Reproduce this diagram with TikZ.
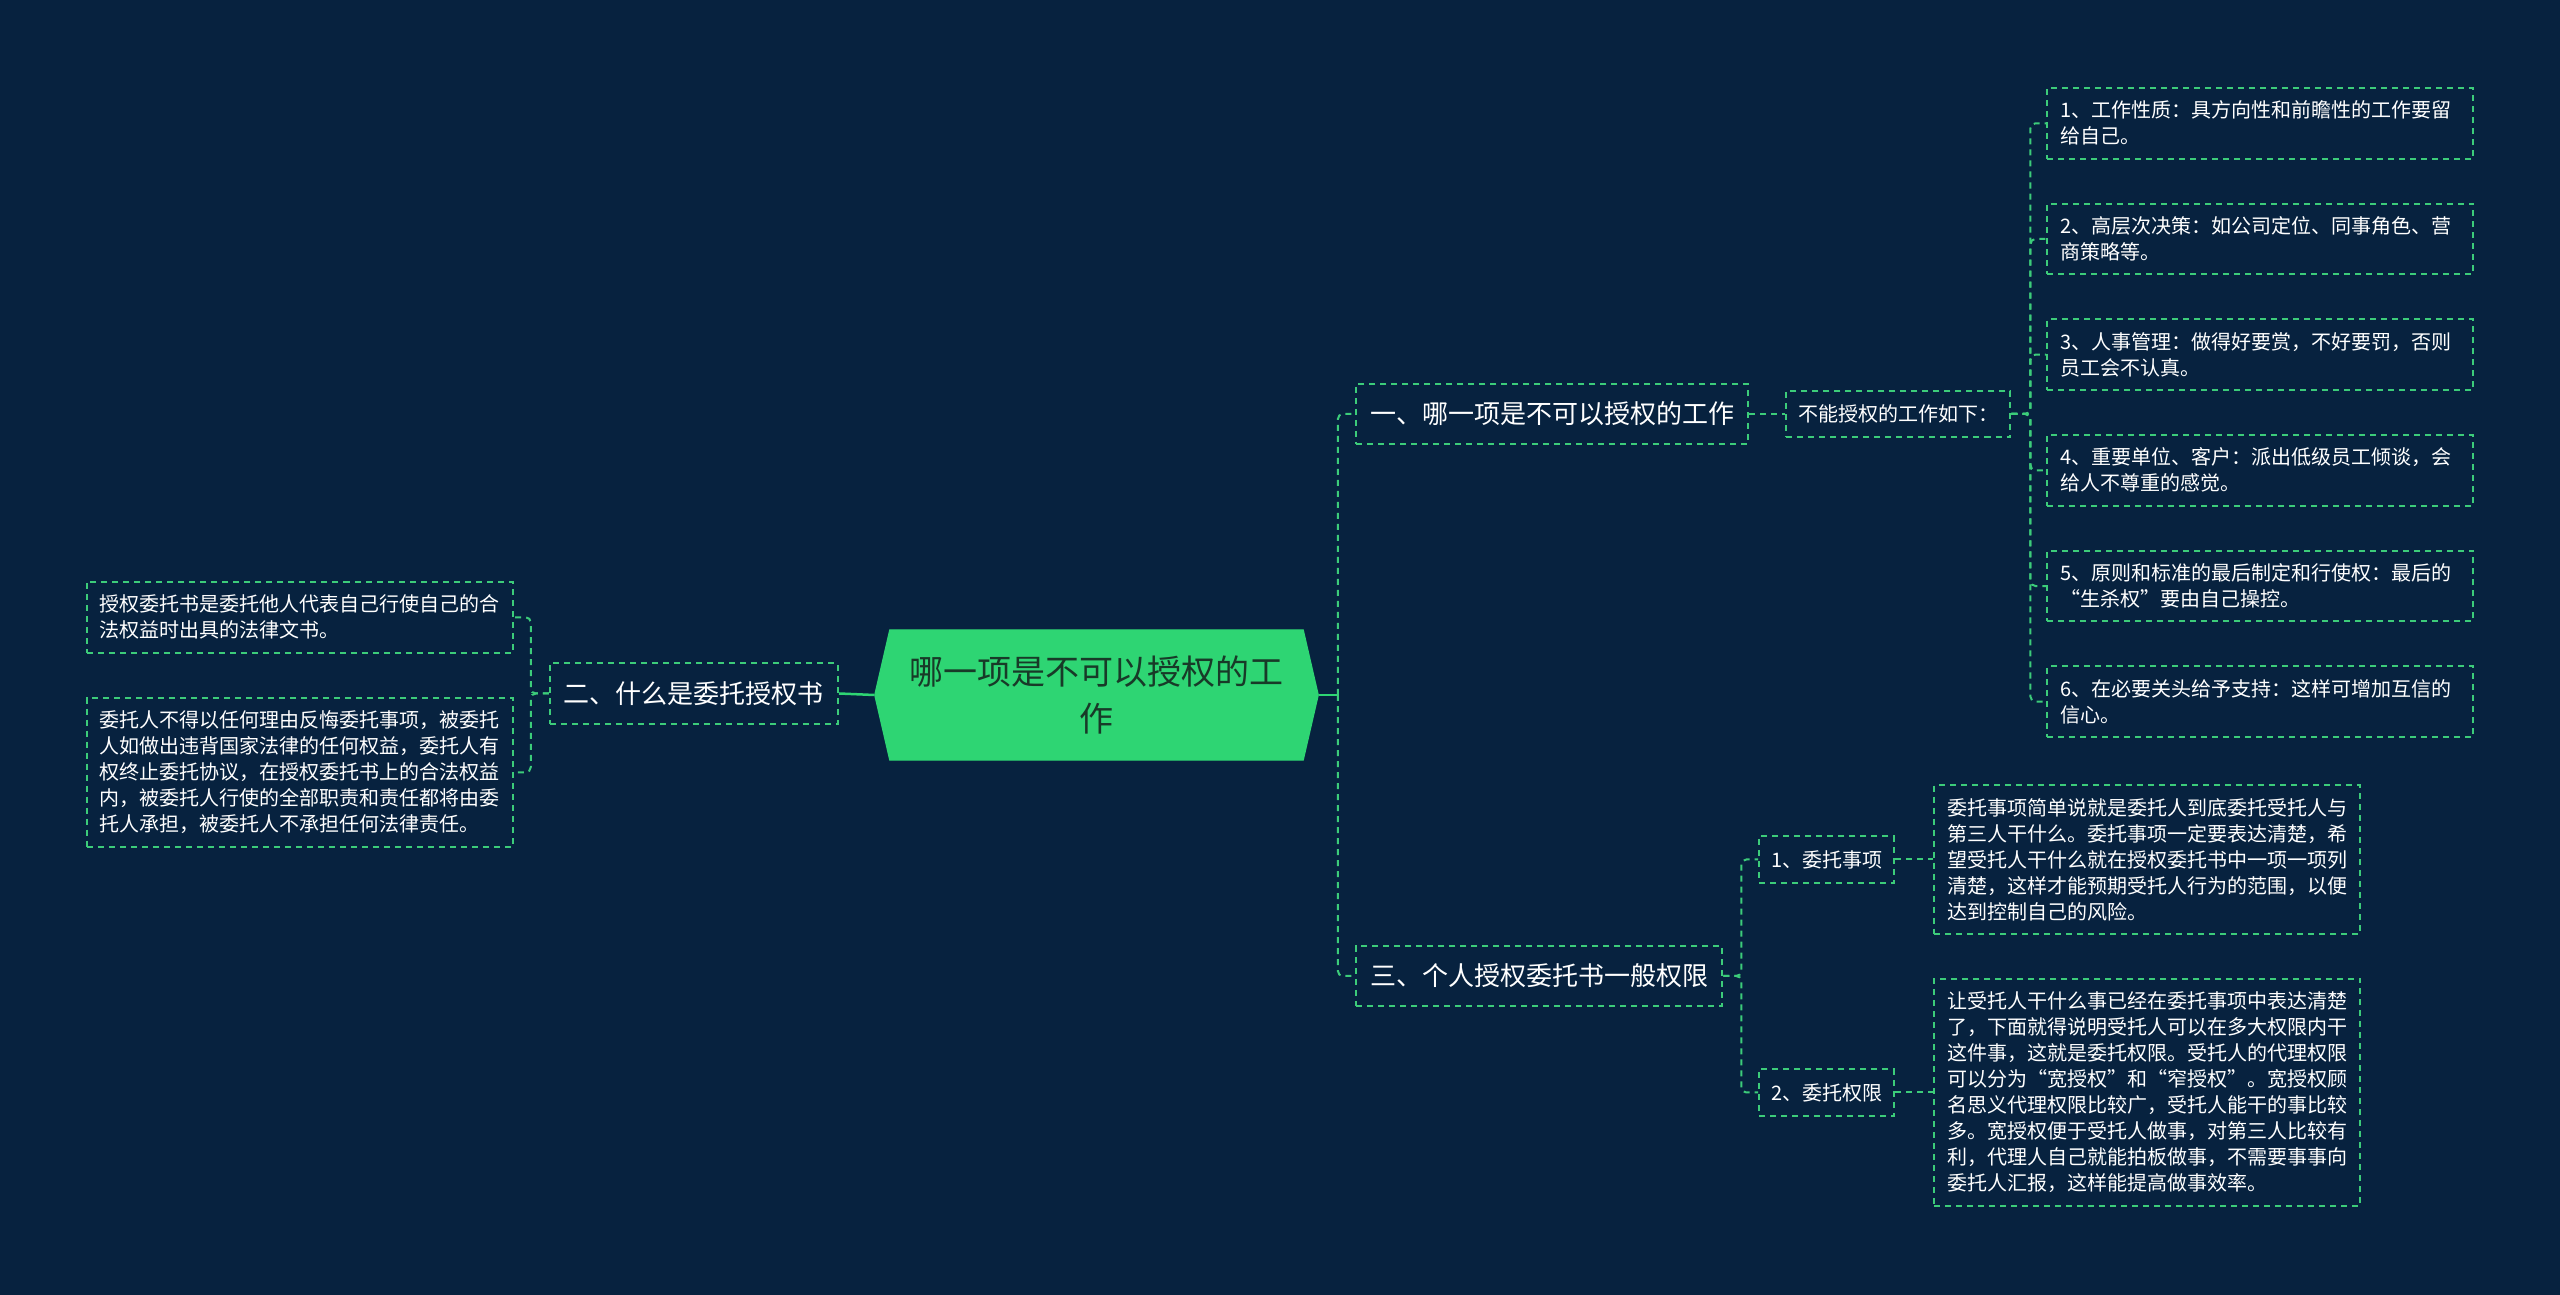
\documentclass[tikz,border=0pt]{standalone}
\usepackage{fontspec}
\setmainfont{Noto Sans CJK SC}
\usepackage{tikz}
\usetikzlibrary{shapes.symbols, positioning, backgrounds}
\usepackage{xcolor}
\definecolor{mapBg}{RGB}{7, 34, 63}
\definecolor{rootGreen}{RGB}{46, 213, 115}
\definecolor{rootText}{RGB}{24, 58, 40}
\definecolor{lineGreen}{RGB}{60, 204, 122}

\begin{document}
\begin{tikzpicture}[
    x=0.01cm, y=-0.01cm,
    % Node styles
    root/.style={
        signal,
        signal to=east and west,
        signal pointer angle=154,
        fill=rootGreen,
        draw=rootGreen,
        text=rootText,
        align=center,
        minimum width=4.43cm,
        minimum height=1.3cm,
        font=\fontsize{9.67pt}{13.09pt}\selectfont
    },
    topic/.style={
        rectangle,
        draw=lineGreen,
        dash pattern=on 0.06cm off 0.05cm,
        line width=0.02cm,
        text=white,
        inner xsep=0.14cm,
        minimum height=0.6cm,
        font=\fontsize{7.4pt}{9pt}\selectfont
    },
    subtopic/.style={
        topic,
        inner xsep=0.12cm,
        minimum height=0.46cm,
        font=\fontsize{5.69pt}{7.4pt}\selectfont
    },
    leaf/.style={
        rectangle,
        draw=lineGreen,
        dash pattern=on 0.06cm off 0.05cm,
        line width=0.02cm,
        text=white,
        text width=4cm,
        align=left,
        inner xsep=0.13cm,
        inner ysep=0.13cm,
        font=\fontsize{5.69pt}{7.4pt}\selectfont
    },
    % Connector styles
    link/.style={
        draw=rootGreen,
        line width=0.025cm
    },
    branch/.style={
        draw=lineGreen,
        line width=0.02cm,
        dash pattern=on 0.06cm off 0.05cm,
        rounded corners=0.05cm
    }
]

% ============================================
% BACKGROUND
% ============================================
\fill[mapBg] (0,0) rectangle (2560,1295);

% ============================================
% ROOT
% ============================================
\node[root] (root) at (1096.5,695) {哪一项是不可以授权的工\\作};

% ============================================
% BRANCH 1: WHAT CANNOT BE DELEGATED
% ============================================
\node[topic, anchor=west] (one) at (1355,414) {一、哪一项是不可以授权的工作};

\node[subtopic, right=0.36cm of one] (cannot) {不能授权的工作如下：};

\node[leaf, anchor=north west] (rule1) at (2046,87) {
    1、工作性质：具方向性和前瞻性的工作要留\\给自己。};
\node[leaf, below=0.43cm of rule1] (rule2) {
    2、高层次决策：如公司定位、同事角色、营\\商策略等。};
\node[leaf, below=0.43cm of rule2] (rule3) {
    3、人事管理：做得好要赏，不好要罚，否则\\员工会不认真。};
\node[leaf, below=0.43cm of rule3] (rule4) {
    4、重要单位、客户：派出低级员工倾谈，会\\给人不尊重的感觉。};
\node[leaf, below=0.43cm of rule4] (rule5) {
    5、原则和标准的最后制定和行使权：最后的\\“生杀权”要由自己操控。};
\node[leaf, below=0.43cm of rule5] (rule6) {
    6、在必要关头给予支持：这样可增加互信的\\信心。};

% ============================================
% BRANCH 2: WHAT A POWER OF ATTORNEY IS
% ============================================
\node[topic, anchor=east] (two) at (839,693.5) {二、什么是委托授权书};

\node[leaf, anchor=north east] (meaning) at (514,581) {
    授权委托书是委托他人代表自己行使自己的合\\法权益时出具的法律文书。};
\node[leaf, below=0.43cm of meaning] (revoke) {
    委托人不得以任何理由反悔委托事项，被委托\\人如做出违背国家法律的任何权益，委托人有\\权终止委托协议，在授权委托书上的合法权益\\内，被委托人行使的全部职责和责任都将由委\\托人承担，被委托人不承担任何法律责任。};

% ============================================
% BRANCH 3: GENERAL LIMITS
% ============================================
\node[topic, anchor=west] (three) at (1355,976) {三、个人授权委托书一般权限};

\node[subtopic, anchor=west] (matter) at (1758,859.5) {1、委托事项};
\node[subtopic, anchor=west] (limit) at (1758,1092.5) {2、委托权限};

\node[leaf, right=0.38cm of matter] (matterText) {
    委托事项简单说就是委托人到底委托受托人与\\第三人干什么。委托事项一定要表达清楚，希\\望受托人干什么就在授权委托书中一项一项列\\清楚，这样才能预期受托人行为的范围，以便\\达到控制自己的风险。};
\node[leaf, right=0.38cm of limit] (limitText) {
    让受托人干什么事已经在委托事项中表达清楚\\了，下面就得说明受托人可以在多大权限内干\\这件事，这就是委托权限。受托人的代理权限\\可以分为“宽授权”和“窄授权”。宽授权顾\\名思义代理权限比较广，受托人能干的事比较\\多。宽授权便于受托人做事，对第三人比较有\\利，代理人自己就能拍板做事，不需要事事向\\委托人汇报，这样能提高做事效率。};

% ============================================
% CONNECTORS
% ============================================
% Root -> right branches
\draw[link] (root.east) -- ++(19,0) coordinate (rightSpine);
\draw[branch] (rightSpine) |- (one.west);
\draw[branch] (rightSpine) |- (three.west);

% Root -> left branch
\draw[link] (root.west) -- (two.east);

% Branch 1
\draw[branch] (one.east) -- (cannot.west);
\foreach \i in {1,...,6}
    \draw[branch] (cannot.east) -- ++(19,0) |- (rule\i.west);

% Branch 2
\draw[branch] (two.west) -- ++(-18,0) |- (meaning.east);
\draw[branch] (two.west) -- ++(-18,0) |- (revoke.east);

% Branch 3
\draw[branch] (three.east) -- ++(18,0) |- (matter.west);
\draw[branch] (three.east) -- ++(18,0) |- (limit.west);
\draw[branch] (matter.east) -- (matterText.west);
\draw[branch] (limit.east) -- (limitText.west);

\end{tikzpicture}
\end{document}
